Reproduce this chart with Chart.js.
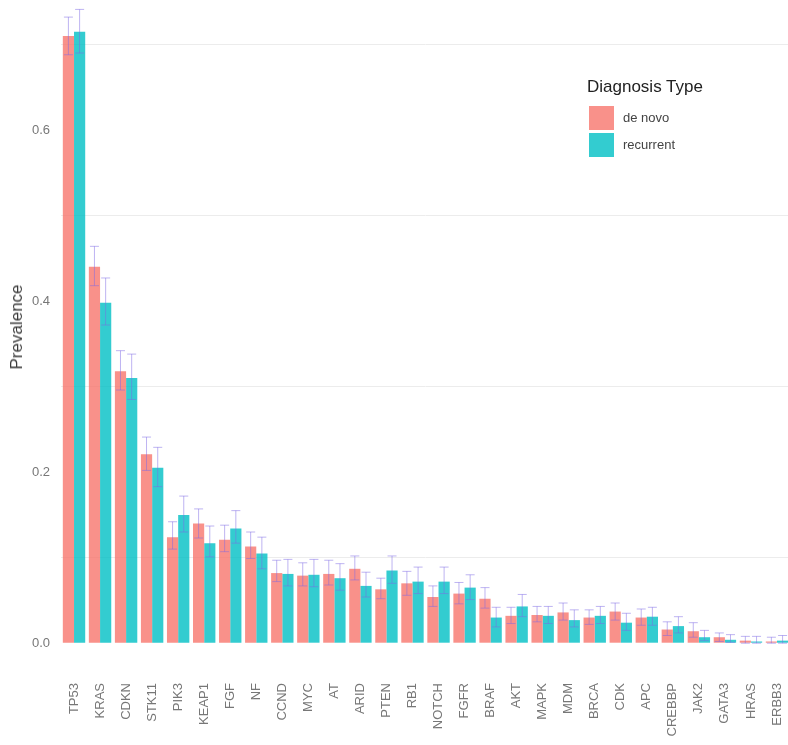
<!DOCTYPE html>
<html>
<head>
<meta charset="utf-8">
<script src="https://cdn.jsdelivr.net/npm/chart.js@4.4.1/dist/chart.umd.min.js"></script>
<style>
  body { margin: 0; background: #fff; overflow: hidden; font-family: "Liberation Sans", Arial, sans-serif; }
  #wrap { position: absolute; left: 0; top: 0; width: 790px; height: 745px; }
  .ytitle { position: absolute; left: 17px; top: 327px; transform: translate(-50%, -50%) rotate(-90deg); font-size: 17px; font-weight: 400; color: #3a3a3a; white-space: nowrap; }
  .legend { position: absolute; left: 587px; top: 77px; }
  .legend .title { font-size: 17px; color: #222; margin-bottom: 7px; }
  .legend .row { display: flex; align-items: center; height: 27px; }
  .legend .key { width: 25px; height: 24px; margin-left: 2px; margin-right: 9px; }
  .legend .lbl { font-size: 13px; color: #444; }
</style>
</head>
<body>
<div id="wrap"><canvas id="chart" width="790" height="745"></canvas></div>
<div class="ytitle">Prevalence</div>
<div class="legend">
  <div class="title">Diagnosis Type</div>
  <div class="row"><div class="key" style="background:rgba(248,118,109,0.8)"></div><span class="lbl">de novo</span></div>
  <div class="row"><div class="key" style="background:rgba(0,191,196,0.8)"></div><span class="lbl">recurrent</span></div>
</div>
<script>
// genes on the x axis
const genes = ['TP53','KRAS','CDKN','STK11','PIK3','KEAP1','FGF','NF','CCND','MYC','AT','ARID','PTEN','RB1','NOTCH','FGFR','BRAF','AKT','MAPK','MDM','BRCA','CDK','APC','CREBBP','JAK2','GATA3','HRAS','ERBB3'];

// de novo prevalence + error range
const deNovo     = [0.710,0.440,0.318,0.221,0.124,0.140,0.121,0.113,0.082,0.079,0.081,0.087,0.063,0.070,0.054,0.058,0.052,0.032,0.033,0.036,0.030,0.037,0.030,0.016,0.014,0.007,0.003,0.002];
const deNovoLow  = [0.688,0.418,0.296,0.202,0.110,0.123,0.107,0.099,0.072,0.067,0.068,0.074,0.052,0.056,0.043,0.046,0.041,0.023,0.025,0.027,0.022,0.027,0.021,0.009,0.007,0.002,0.000,0.000];
const deNovoHigh = [0.732,0.464,0.342,0.241,0.142,0.157,0.138,0.130,0.097,0.094,0.097,0.102,0.076,0.084,0.067,0.071,0.065,0.042,0.043,0.047,0.039,0.047,0.040,0.025,0.024,0.012,0.008,0.007];

// recurrent prevalence + error range
const recurrent     = [0.715,0.398,0.310,0.205,0.150,0.117,0.134,0.105,0.081,0.080,0.076,0.067,0.085,0.072,0.072,0.065,0.030,0.043,0.032,0.027,0.032,0.024,0.031,0.020,0.007,0.004,0.002,0.003];
const recurrentLow  = [0.690,0.372,0.285,0.183,0.130,0.101,0.117,0.087,0.067,0.066,0.062,0.054,0.070,0.058,0.058,0.051,0.019,0.031,0.023,0.019,0.023,0.015,0.021,0.012,0.003,0.001,0.000,0.000];
const recurrentHigh = [0.741,0.427,0.338,0.229,0.172,0.137,0.155,0.124,0.098,0.098,0.093,0.083,0.102,0.089,0.089,0.080,0.042,0.057,0.043,0.039,0.043,0.035,0.042,0.031,0.015,0.010,0.008,0.009];

// y grid / tick labels
const yGridValues = [0, 0.1, 0.2, 0.3, 0.4, 0.5, 0.6, 0.7];
const yTickLabels = ['0.0', '', '0.2', '', '0.4', '', '0.6', ''];

const errorRanges = [[deNovoLow, deNovoHigh], [recurrentLow, recurrentHigh]];

// draws error bars on top of the bars, using the y scale
const errorBars = {
  id: 'errorBars',
  afterDatasetsDraw(chart) {
    const ctx = chart.ctx;
    const yScale = chart.scales.y;
    ctx.save();
    ctx.strokeStyle = 'rgba(125,105,230,0.5)';
    ctx.lineWidth = 1;
    chart.data.datasets.forEach((ds, i) => {
      const meta = chart.getDatasetMeta(i);
      const [lo, hi] = errorRanges[i];
      meta.data.forEach((bar, j) => {
        const x = bar.x;
        const y1 = yScale.getPixelForValue(lo[j]);
        const y2 = yScale.getPixelForValue(hi[j]);
        const half = 4.5;
        ctx.beginPath();
        ctx.moveTo(x, y1); ctx.lineTo(x, y2);
        ctx.moveTo(x - half, y1); ctx.lineTo(x + half, y1);
        ctx.moveTo(x - half, y2); ctx.lineTo(x + half, y2);
        ctx.stroke();
      });
    });
    ctx.restore();
  }
};

new Chart(document.getElementById('chart'), {
  type: 'bar',
  data: {
    labels: genes,
    datasets: [
      { label: 'de novo', data: deNovo, backgroundColor: 'rgba(248,118,109,0.8)' },
      { label: 'recurrent', data: recurrent, backgroundColor: 'rgba(0,191,196,0.8)' }
    ]
  },
  options: {
    responsive: false,
    animation: false,
    layout: { padding: 0 },
    datasets: { bar: { barPercentage: 1.0, categoryPercentage: 0.86 } },
    plugins: { legend: { display: false }, tooltip: { enabled: false } },
    scales: {
      x: {
        grid: { display: false, drawTicks: false },
        border: { display: false },
        ticks: {
          minRotation: 90, maxRotation: 90, autoSkip: false, padding: 9,
          color: '#777', font: { family: 'Liberation Sans', size: 13 }
        },
        afterFit(scale) {
          scale.height = 71;
          scale.paddingLeft = 0;
          scale.paddingRight = 0;
        }
      },
      y: {
        min: -0.036,
        max: 0.752,
        border: { display: false },
        grid: {
          drawTicks: false,
          color: (c) => (Math.round(c.tick.value * 10) % 2 === 1 ? '#ececec' : 'rgba(0,0,0,0)')
        },
        afterBuildTicks(scale) { scale.ticks = yGridValues.map(v => ({ value: v })); },
        ticks: {
          padding: 11,
          color: '#777', font: { family: 'Liberation Sans', size: 13 },
          callback: (v, idx) => yTickLabels[idx]
        },
        afterFit(scale) {
          scale.width = 61;
          scale.paddingTop = 0;
          scale.paddingBottom = 0;
        }
      }
    }
  },
  plugins: [errorBars]
});
</script>
</body>
</html>
